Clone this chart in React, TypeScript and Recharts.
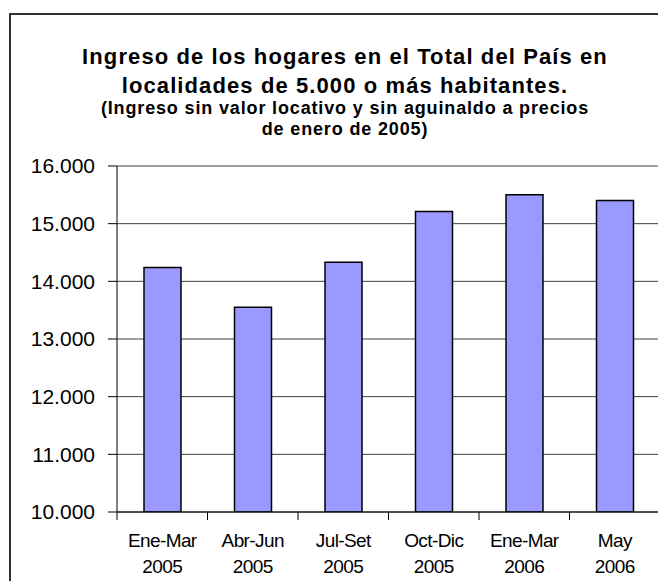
import React from 'react';
import { BarChart, Bar, XAxis, YAxis, CartesianGrid } from 'recharts';

const periods = ['Ene-Mar', 'Abr-Jun', 'Jul-Set', 'Oct-Dic', 'Ene-Mar', 'May'];
const years = ['2005', '2005', '2005', '2005', '2006', '2006'];
const ingreso = [14240, 13550, 14330, 15210, 15500, 15400];
const yTicks = [10000, 11000, 12000, 13000, 14000, 15000, 16000];
const titleLines = [
  'Ingreso de los hogares en el Total del País en',
  'localidades de 5.000 o más habitantes.',
  '(Ingreso sin valor locativo y sin aguinaldo a precios',
  'de enero de 2005)',
];

const data = periods.map((p, i) => ({ idx: i, period: p, year: years[i], value: ingreso[i] }));

const FONT = '"Liberation Sans", Arial, Helvetica, sans-serif';

const fmt = (v: number) => String(v).replace(/\B(?=(\d{3})+(?!\d))/g, '.');

function XTick(props: any) {
  const { x, y, payload } = props;
  const i = payload.value as number;
  const off = payload.offset ?? 45.25;
  const d = data[i];
  return (
    <g>
      <line x1={x - off} y1={y} x2={x - off} y2={y + 8} stroke="#000" strokeWidth={1} />
      {i === data.length - 1 && (
        <line x1={x + off} y1={y} x2={x + off} y2={y + 8} stroke="#777" strokeWidth={1} />
      )}
      <text x={x} y={y} textAnchor="middle" fontFamily={FONT} fontSize={19} letterSpacing={-0.6} fill="#000">
        <tspan x={x} dy={34.7}>{d ? d.period : ''}</tspan>
        <tspan x={x} dy={26.3}>{d ? d.year : ''}</tspan>
      </text>
    </g>
  );
}

export default function App() {
  return (
    <div style={{ position: 'relative', width: 658, height: 573, overflow: 'hidden', fontFamily: FONT, background: '#fff' }}>
      <div
        style={{
          position: 'absolute',
          left: 1,
          top: 5,
          width: 720,
          height: 720,
          border: '2px solid #333',
          boxSizing: 'border-box',
        }}
      />
      <svg style={{ position: 'absolute', left: 0, top: 0 }} width={658} height={160}>
        <text x={337} y={56} textAnchor="middle" fontFamily={FONT} fontWeight="bold" fontSize={22} letterSpacing={1.1} fill="#000">
          {titleLines[0]}
        </text>
        <text x={337} y={85} textAnchor="middle" fontFamily={FONT} fontWeight="bold" fontSize={22} letterSpacing={1.1} fill="#000">
          {titleLines[1]}
        </text>
        <text x={337} y={106} textAnchor="middle" fontFamily={FONT} fontWeight="bold" fontSize={18} letterSpacing={0.85} fill="#000">
          {titleLines[2]}
        </text>
        <text x={337} y={127} textAnchor="middle" fontFamily={FONT} fontWeight="bold" fontSize={18} letterSpacing={0.85} fill="#000">
          {titleLines[3]}
        </text>
      </svg>
      <div style={{ position: 'absolute', left: 0, top: 0 }}>
        <BarChart width={658} height={573} data={data} margin={{ top: 158, right: 6, bottom: 0, left: 0 }}>
          <CartesianGrid vertical={false} stroke="#404040" strokeWidth={1} />
          <XAxis
            dataKey="idx"
            type="category"
            height={69}
            axisLine={{ stroke: '#000', strokeWidth: 1 }}
            tickLine={false}
            tickSize={0}
            tickMargin={0}
            interval={0}
            tick={<XTick />}
          />
          <XAxis
            xAxisId="top"
            dataKey="idx"
            orientation="top"
            height={0}
            axisLine={{ stroke: '#888', strokeWidth: 2 }}
            tickLine={false}
            tick={false}
          />
          <YAxis
            width={109}
            domain={[10000, 16000]}
            ticks={yTicks}
            allowDataOverflow
            tickFormatter={fmt}
            axisLine={{ stroke: '#000', strokeWidth: 1 }}
            tickLine={{ stroke: '#000', strokeWidth: 1 }}
            tickSize={9}
            tickMargin={13}
            tick={{ fontFamily: FONT, fontSize: 21, fill: '#000' }}
          />
          <YAxis
            yAxisId="right"
            orientation="right"
            width={0}
            axisLine={{ stroke: '#888', strokeWidth: 1.5 }}
            tickLine={false}
            tick={false}
          />
          <Bar dataKey="value" fill="#9999FF" stroke="#000" strokeWidth={1.5} barSize={37} isAnimationActive={false} />
        </BarChart>
      </div>
    </div>
  );
}
